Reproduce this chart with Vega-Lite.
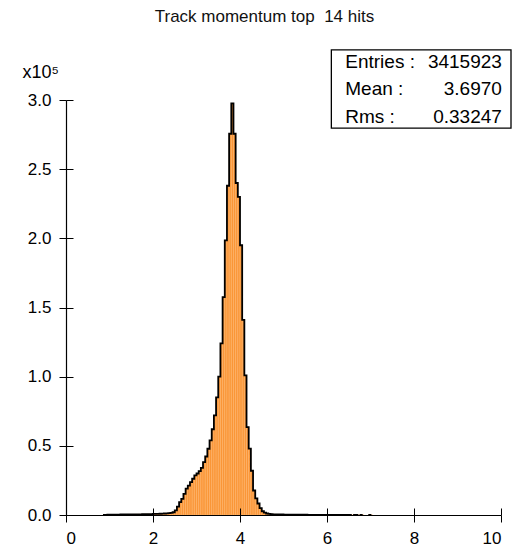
{
  "$schema": "https://vega.github.io/schema/vega-lite/v6.json",
  "width": 435,
  "height": 415,
  "autosize": "none",
  "padding": {"left": 66, "top": 100, "right": 28, "bottom": 37},
  "background": "white",
  "config": {"view": {"stroke": null}, "font": "Liberation Sans"},
  "title": {"text": "Track momentum top \u00a014 hits", "anchor": "middle", "frame": "group", "dx": -19, "fontSize": 17, "fontWeight": "normal", "color": "#111111", "font": "Liberation Sans", "offset": 23},
  "datasets": {
    "hist": [
      {"lo": 0.85, "hi": 0.9, "n": 150, "s": "a"},
      {"lo": 0.9, "hi": 0.95, "n": 120, "s": "a"},
      {"lo": 0.95, "hi": 1.0, "n": 200, "s": "a"},
      {"lo": 1.0, "hi": 1.05, "n": 250, "s": "a"},
      {"lo": 1.05, "hi": 1.1, "n": 250, "s": "a"},
      {"lo": 1.1, "hi": 1.15, "n": 300, "s": "a"},
      {"lo": 1.15, "hi": 1.2, "n": 300, "s": "a"},
      {"lo": 1.2, "hi": 1.25, "n": 300, "s": "a"},
      {"lo": 1.25, "hi": 1.3, "n": 350, "s": "a"},
      {"lo": 1.3, "hi": 1.35, "n": 350, "s": "a"},
      {"lo": 1.35, "hi": 1.4, "n": 350, "s": "a"},
      {"lo": 1.4, "hi": 1.45, "n": 400, "s": "a"},
      {"lo": 1.45, "hi": 1.5, "n": 400, "s": "a"},
      {"lo": 1.5, "hi": 1.55, "n": 400, "s": "a"},
      {"lo": 1.55, "hi": 1.6, "n": 450, "s": "a"},
      {"lo": 1.6, "hi": 1.65, "n": 450, "s": "a"},
      {"lo": 1.65, "hi": 1.7, "n": 500, "s": "a"},
      {"lo": 1.7, "hi": 1.75, "n": 500, "s": "a"},
      {"lo": 1.75, "hi": 1.8, "n": 550, "s": "a"},
      {"lo": 1.8, "hi": 1.85, "n": 550, "s": "a"},
      {"lo": 1.85, "hi": 1.9, "n": 600, "s": "a"},
      {"lo": 1.9, "hi": 1.95, "n": 650, "s": "a"},
      {"lo": 1.95, "hi": 2.0, "n": 700, "s": "a"},
      {"lo": 2.0, "hi": 2.05, "n": 750, "s": "a"},
      {"lo": 2.05, "hi": 2.1, "n": 800, "s": "a"},
      {"lo": 2.1, "hi": 2.15, "n": 850, "s": "a"},
      {"lo": 2.15, "hi": 2.2, "n": 900, "s": "a"},
      {"lo": 2.2, "hi": 2.25, "n": 1000, "s": "a"},
      {"lo": 2.25, "hi": 2.3, "n": 1100, "s": "a"},
      {"lo": 2.3, "hi": 2.35, "n": 1200, "s": "a"},
      {"lo": 2.35, "hi": 2.4, "n": 1300, "s": "a"},
      {"lo": 2.4, "hi": 2.45, "n": 1500, "s": "a"},
      {"lo": 2.45, "hi": 2.5, "n": 2000, "s": "a"},
      {"lo": 2.5, "hi": 2.55, "n": 3300, "s": "a"},
      {"lo": 2.55, "hi": 2.6, "n": 6100, "s": "a"},
      {"lo": 2.6, "hi": 2.65, "n": 9300, "s": "a"},
      {"lo": 2.65, "hi": 2.7, "n": 11700, "s": "a"},
      {"lo": 2.7, "hi": 2.75, "n": 15300, "s": "a"},
      {"lo": 2.75, "hi": 2.8, "n": 19000, "s": "a"},
      {"lo": 2.8, "hi": 2.85, "n": 21300, "s": "a"},
      {"lo": 2.85, "hi": 2.9, "n": 23700, "s": "a"},
      {"lo": 2.9, "hi": 2.95, "n": 26200, "s": "a"},
      {"lo": 2.95, "hi": 3.0, "n": 28600, "s": "a"},
      {"lo": 3.0, "hi": 3.05, "n": 30000, "s": "a"},
      {"lo": 3.05, "hi": 3.1, "n": 31700, "s": "a"},
      {"lo": 3.1, "hi": 3.15, "n": 34100, "s": "a"},
      {"lo": 3.15, "hi": 3.2, "n": 38200, "s": "a"},
      {"lo": 3.2, "hi": 3.25, "n": 42300, "s": "a"},
      {"lo": 3.25, "hi": 3.3, "n": 47900, "s": "a"},
      {"lo": 3.3, "hi": 3.35, "n": 53900, "s": "a"},
      {"lo": 3.35, "hi": 3.4, "n": 62000, "s": "a"},
      {"lo": 3.4, "hi": 3.45, "n": 72000, "s": "a"},
      {"lo": 3.45, "hi": 3.5, "n": 85000, "s": "a"},
      {"lo": 3.5, "hi": 3.55, "n": 100000, "s": "a"},
      {"lo": 3.55, "hi": 3.6, "n": 124000, "s": "a"},
      {"lo": 3.6, "hi": 3.65, "n": 157500, "s": "a"},
      {"lo": 3.65, "hi": 3.7, "n": 198500, "s": "a"},
      {"lo": 3.7, "hi": 3.75, "n": 238000, "s": "a"},
      {"lo": 3.75, "hi": 3.8, "n": 275600, "s": "a"},
      {"lo": 3.8, "hi": 3.85, "n": 297500, "s": "a"},
      {"lo": 3.85, "hi": 3.9, "n": 275600, "s": "a"},
      {"lo": 3.9, "hi": 3.95, "n": 240000, "s": "a"},
      {"lo": 3.95, "hi": 4.0, "n": 230000, "s": "a"},
      {"lo": 4.0, "hi": 4.05, "n": 195000, "s": "a"},
      {"lo": 4.05, "hi": 4.1, "n": 141000, "s": "a"},
      {"lo": 4.1, "hi": 4.15, "n": 101000, "s": "a"},
      {"lo": 4.15, "hi": 4.2, "n": 63500, "s": "a"},
      {"lo": 4.2, "hi": 4.25, "n": 48000, "s": "a"},
      {"lo": 4.25, "hi": 4.3, "n": 32000, "s": "a"},
      {"lo": 4.3, "hi": 4.35, "n": 17700, "s": "a"},
      {"lo": 4.35, "hi": 4.4, "n": 12000, "s": "a"},
      {"lo": 4.4, "hi": 4.45, "n": 8300, "s": "a"},
      {"lo": 4.45, "hi": 4.5, "n": 5000, "s": "a"},
      {"lo": 4.5, "hi": 4.55, "n": 2700, "s": "a"},
      {"lo": 4.55, "hi": 4.6, "n": 1700, "s": "a"},
      {"lo": 4.6, "hi": 4.65, "n": 1100, "s": "a"},
      {"lo": 4.65, "hi": 4.7, "n": 800, "s": "a"},
      {"lo": 4.7, "hi": 4.75, "n": 600, "s": "a"},
      {"lo": 4.75, "hi": 4.8, "n": 500, "s": "a"},
      {"lo": 4.8, "hi": 4.85, "n": 450, "s": "a"},
      {"lo": 4.85, "hi": 4.9, "n": 400, "s": "a"},
      {"lo": 4.9, "hi": 4.95, "n": 380, "s": "a"},
      {"lo": 4.95, "hi": 5.0, "n": 350, "s": "a"},
      {"lo": 5.0, "hi": 5.05, "n": 320, "s": "a"},
      {"lo": 5.05, "hi": 5.1, "n": 300, "s": "a"},
      {"lo": 5.1, "hi": 5.15, "n": 280, "s": "a"},
      {"lo": 5.15, "hi": 5.2, "n": 260, "s": "a"},
      {"lo": 5.2, "hi": 5.25, "n": 250, "s": "a"},
      {"lo": 5.25, "hi": 5.3, "n": 230, "s": "a"},
      {"lo": 5.3, "hi": 5.35, "n": 220, "s": "a"},
      {"lo": 5.35, "hi": 5.4, "n": 200, "s": "a"},
      {"lo": 5.4, "hi": 5.45, "n": 190, "s": "a"},
      {"lo": 5.45, "hi": 5.5, "n": 180, "s": "a"},
      {"lo": 5.5, "hi": 5.55, "n": 170, "s": "a"},
      {"lo": 5.55, "hi": 5.6, "n": 160, "s": "a"},
      {"lo": 5.6, "hi": 5.65, "n": 150, "s": "a"},
      {"lo": 5.65, "hi": 5.7, "n": 140, "s": "a"},
      {"lo": 5.7, "hi": 5.75, "n": 130, "s": "a"},
      {"lo": 5.75, "hi": 5.8, "n": 120, "s": "a"},
      {"lo": 5.8, "hi": 5.85, "n": 115, "s": "a"},
      {"lo": 5.85, "hi": 5.9, "n": 110, "s": "a"},
      {"lo": 5.9, "hi": 5.95, "n": 100, "s": "a"},
      {"lo": 5.95, "hi": 6.0, "n": 95, "s": "a"},
      {"lo": 6.0, "hi": 6.05, "n": 90, "s": "a"},
      {"lo": 6.05, "hi": 6.1, "n": 85, "s": "a"},
      {"lo": 6.1, "hi": 6.15, "n": 80, "s": "a"},
      {"lo": 6.15, "hi": 6.2, "n": 75, "s": "a"},
      {"lo": 6.2, "hi": 6.25, "n": 70, "s": "a"},
      {"lo": 6.25, "hi": 6.3, "n": 65, "s": "a"},
      {"lo": 6.3, "hi": 6.35, "n": 60, "s": "a"},
      {"lo": 6.35, "hi": 6.4, "n": 55, "s": "a"},
      {"lo": 6.4, "hi": 6.45, "n": 50, "s": "a"},
      {"lo": 6.45, "hi": 6.5, "n": 45, "s": "a"},
      {"lo": 6.5, "hi": 6.55, "n": 40, "s": "a"},
      {"lo": 6.55, "hi": 6.6, "n": 0, "s": "a"},
      {"lo": 6.6, "hi": 6.65, "n": 30, "s": "b"},
      {"lo": 6.65, "hi": 6.7, "n": 30, "s": "b"},
      {"lo": 6.7, "hi": 6.75, "n": 0, "s": "b"},
      {"lo": 6.75, "hi": 6.8, "n": 30, "s": "c"},
      {"lo": 6.8, "hi": 6.85, "n": 0, "s": "c"},
      {"lo": 6.95, "hi": 7.0, "n": 30, "s": "d"},
      {"lo": 7.0, "hi": 7.05, "n": 0, "s": "d"}
    ],
    "stats": [
      {"names": ["Entries :", "Mean :", "Rms :"], "nums": ["3415923", "3.6970", "0.33247"]}
    ]
  },
  "layer": [
    {
      "data": {"name": "hist"},
      "mark": {"type": "rect", "fill": "#fa9637", "stroke": "#ffb56c", "strokeWidth": 0.5},
      "encoding": {
        "x": {
          "field": "lo", "type": "quantitative",
          "scale": {"domain": [0, 10], "nice": false, "zero": false},
          "axis": {
            "values": [0, 2, 4, 6, 8, 10], "format": "d", "title": null,
            "labelFont": "Liberation Sans", "labelFontSize": 17, "labelColor": "#000000", "labelPadding": 8,
            "tickSize": 7, "tickColor": "#000000", "tickWidth": 1,
            "domainColor": "#000000", "domainWidth": 1.2,
            "grid": true, "gridColor": "#000000", "gridDash": [0, 408, 7, 1000], "gridWidth": 1, "gridOpacity": 1,
            "zindex": 1
          }
        },
        "x2": {"field": "hi"},
        "y": {
          "field": "n", "type": "quantitative",
          "scale": {"domain": [0, 300000], "nice": false},
          "axis": {
            "values": [0, 50000, 100000, 150000, 200000, 250000, 300000],
            "labelExpr": "format(datum.value / 100000, '.1f')",
            "labelFont": "Liberation Sans", "labelFontSize": 17, "labelColor": "#000000", "labelPadding": 8,
            "tickSize": 7, "tickColor": "#000000", "tickWidth": 1,
            "domainColor": "#000000", "domainWidth": 1.2,
            "grid": true, "gridColor": "#000000", "gridDash": [7, 2000], "gridWidth": 1, "gridOpacity": 1,
            "title": "x10⁵", "titleAngle": 0, "titleAlign": "left", "titleBaseline": "alphabetic",
            "titleX": -44, "titleY": -23, "titleFont": "Liberation Sans", "titleFontSize": 18, "titleFontWeight": "normal", "titleColor": "#000000",
            "zindex": 1
          }
        },
        "y2": {"datum": 0}
      }
    },
    {
      "data": {"name": "hist"},
      "mark": {"type": "line", "interpolate": "step-after", "color": "#000000", "strokeWidth": 1.8},
      "encoding": {
        "x": {"field": "lo", "type": "quantitative"},
        "y": {"field": "n", "type": "quantitative"},
        "detail": {"field": "s", "type": "nominal"}
      }
    },
    {
      "data": {"name": "stats"},
      "mark": {"type": "rect", "fill": "white", "stroke": "#000000", "strokeWidth": 1.3},
      "encoding": {
        "x": {"datum": 6.1}, "x2": {"datum": 10.23},
        "y": {"datum": 336200}, "y2": {"datum": 279700}
      }
    },
    {
      "data": {"name": "stats"},
      "mark": {"type": "text", "align": "left", "baseline": "top", "font": "Liberation Sans", "fontSize": 19, "lineHeight": 27.5, "color": "#000000"},
      "encoding": {
        "x": {"datum": 6.42}, "y": {"datum": 334000},
        "text": {"field": "names"}
      }
    },
    {
      "data": {"name": "stats"},
      "mark": {"type": "text", "align": "right", "baseline": "top", "font": "Liberation Sans", "fontSize": 19, "lineHeight": 27.5, "color": "#000000"},
      "encoding": {
        "x": {"datum": 10.02}, "y": {"datum": 334000},
        "text": {"field": "nums"}
      }
    }
  ]
}
